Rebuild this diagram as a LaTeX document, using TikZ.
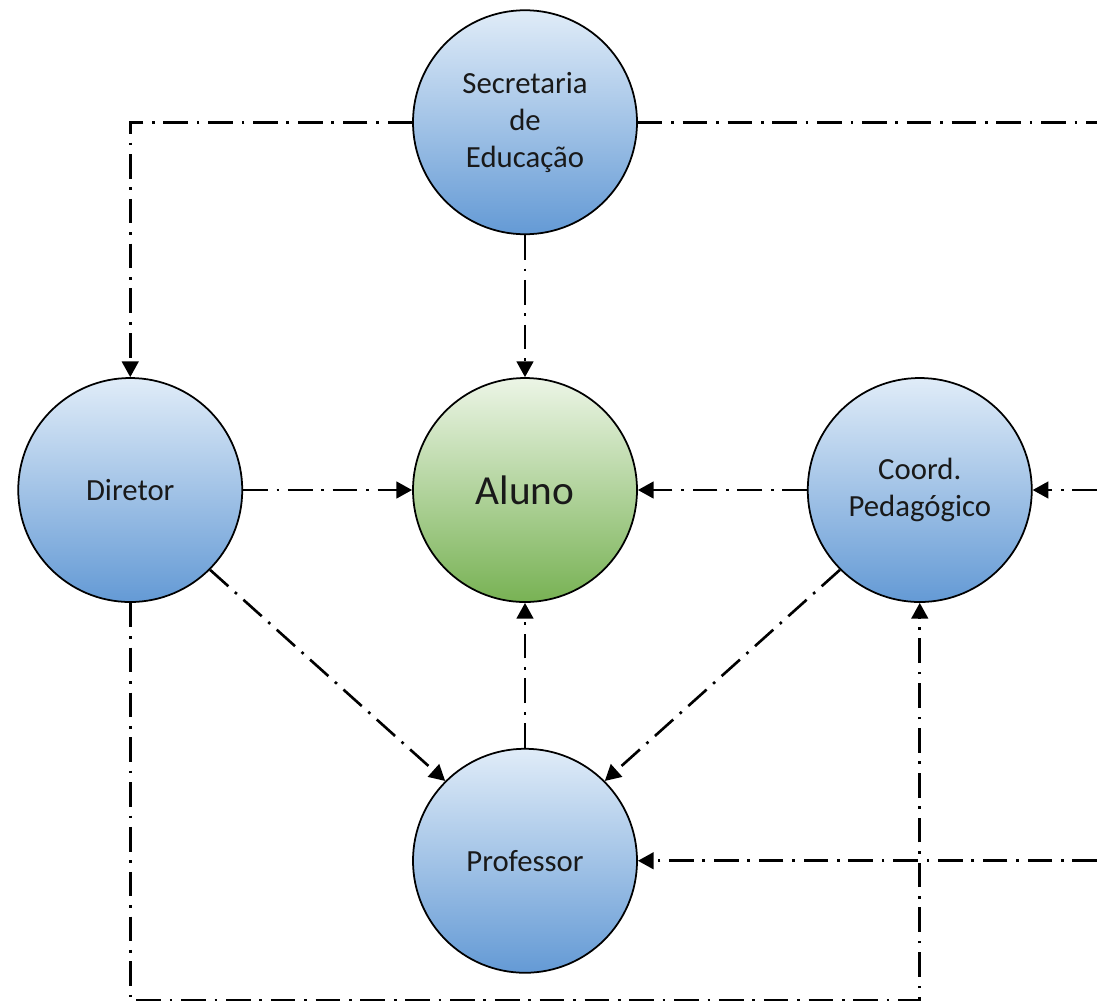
\documentclass[tikz,border=0pt]{standalone}
\usepackage{fontspec}
\setmainfont{Carlito}
\usepackage{tikz}
\usetikzlibrary{arrows.meta,calc,positioning}
\definecolor{azulA}{RGB}{224,236,248}
\definecolor{azulB}{RGB}{100,154,213}
\definecolor{verdeA}{RGB}{236,245,230}
\definecolor{verdeB}{RGB}{120,178,84}
\tikzset{
	ator/.style={circle,draw,line width=1pt,minimum size=4.48cm,inner sep=0pt,
		align=center,text=black!90,font=\fontsize{17.5}{21}\selectfont,
		top color=azulA,bottom color=azulB},
	ator aluno/.style={ator,top color=verdeA,bottom color=verdeB,
		font=\fontsize{23.5}{28}\selectfont},
	fluxo/.style={draw,line width=1.5pt,
		dash pattern=on 14pt off 5pt on 1.5pt off 5pt,
		-{Triangle[length=9pt,width=9.5pt]}},
	linha/.style={fluxo,-}
}
\begin{document}
\begin{tikzpicture}[node distance=3.38cm and 3.38cm]
	\useasboundingbox (0,0) rectangle (21.94,-20.14);
	\node[ator aluno] (Alu) at (10.5,-9.8) {Aluno};
	\node[ator, left=of Alu] (Dir) {Diretor};
	\node[ator, right=of Alu] (Coo) {Coord.\\Pedagógico};
	\node[ator, above=2.84cm of Alu] (Sec) {Secretaria\\de\\Educação};
	\node[ator, below=2.9cm of Alu] (Pro) {Professor};
	% bordas da figura
	\coordinate (borda) at (21.94,0);
	\coordinate (base) at (0,-20.0);
	% setas para o aluno
	\draw[fluxo] (Sec) -- (Alu);
	\draw[fluxo] (Dir) -- (Alu);
	\draw[fluxo] (Coo) -- (Alu);
	\draw[fluxo] (Pro) -- (Alu);
	\draw[fluxo] (Dir.-45) -- (Pro.135);
	\draw[fluxo] (Coo.-135) -- (Pro.45);
	\draw[fluxo] (Sec.west) -- (Dir |- Sec) -- (Dir.north);
	\draw[linha] (Sec.east) -- (borda |- Sec);
	\draw[fluxo] (borda |- Coo) -- (Coo.east);
	\draw[fluxo] (borda |- Pro) -- (Pro.east);
	\draw[fluxo] (Dir.south) -- (Dir |- base) -- (Coo |- base) -- (Coo.south);
\end{tikzpicture}
\end{document}
